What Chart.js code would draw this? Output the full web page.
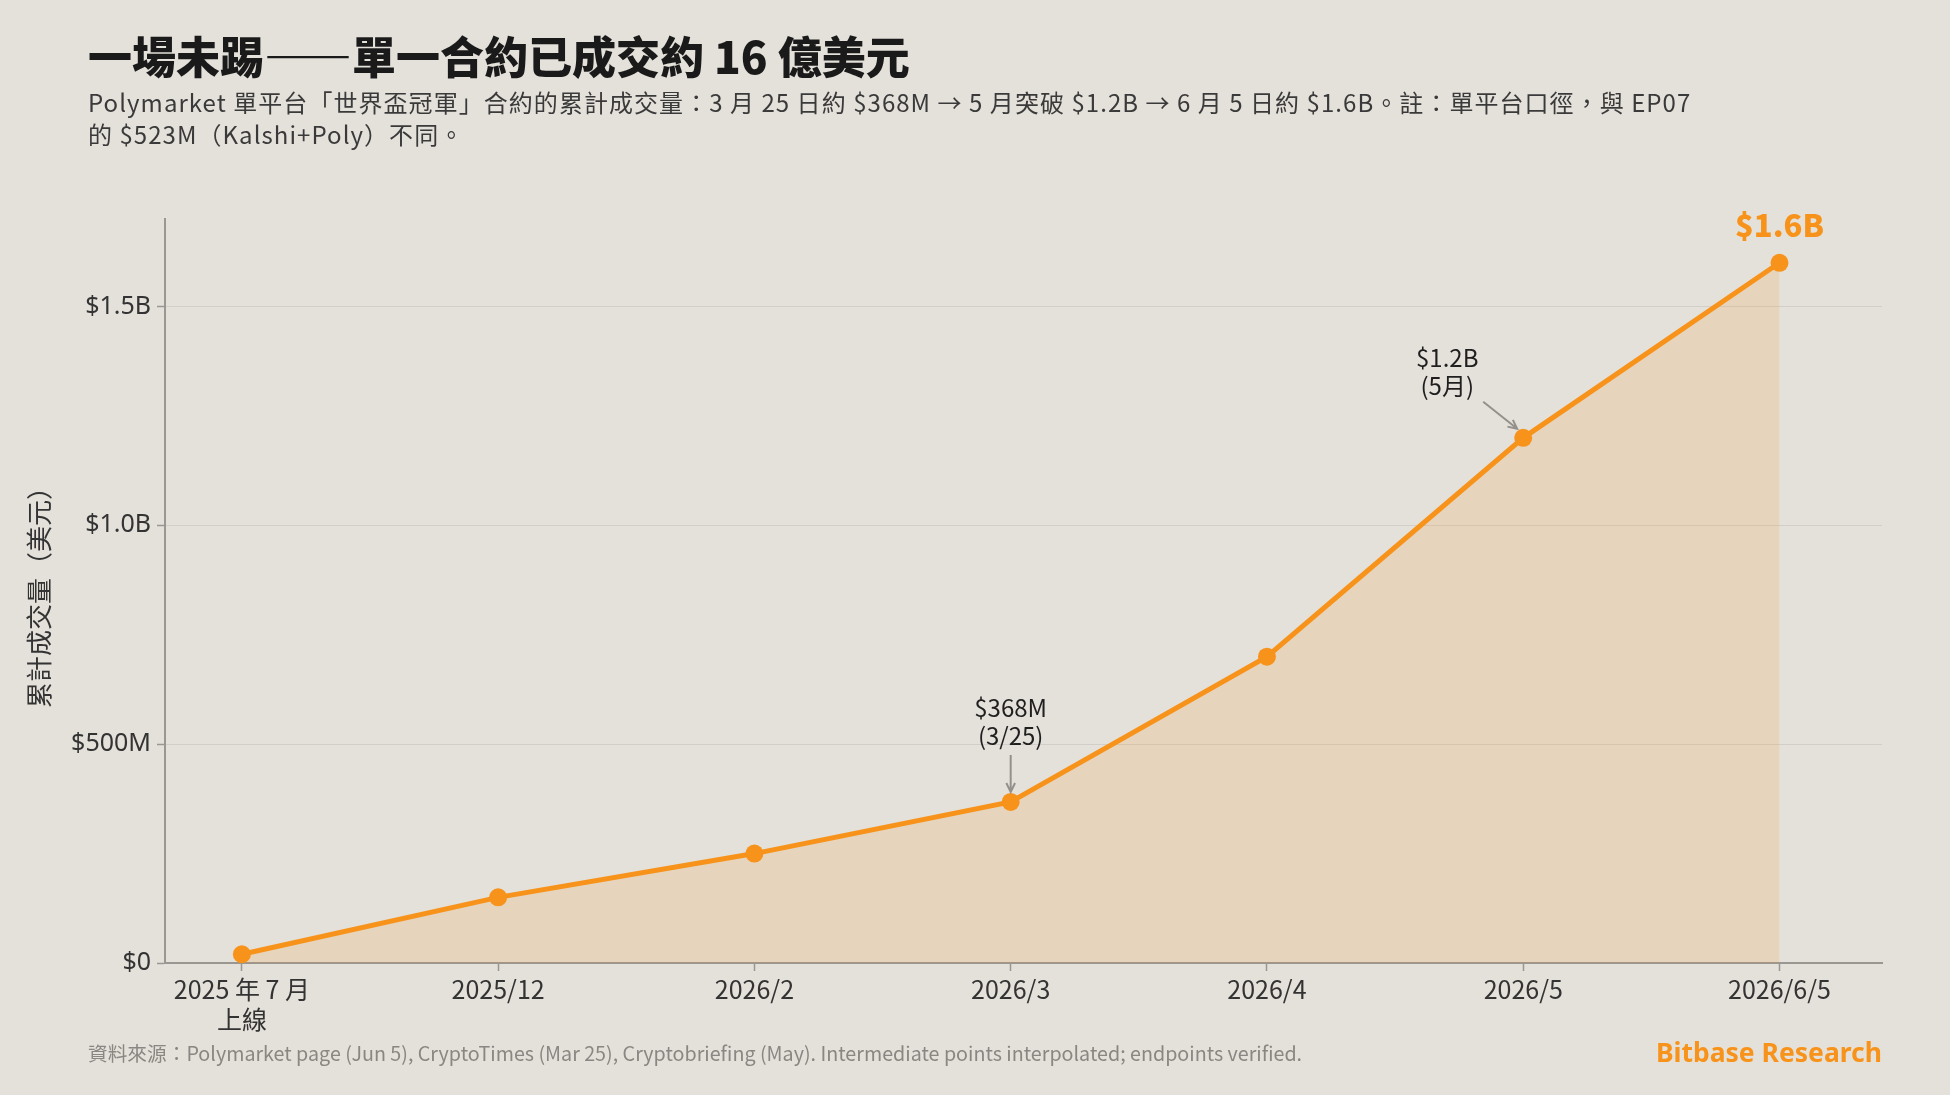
<!DOCTYPE html>
<html lang="zh-Hant">
<head>
<meta charset="utf-8">
<title>一場未踢——單一合約已成交約 16 億美元</title>
<script src="https://cdn.jsdelivr.net/npm/chart.js@4.4.1/dist/chart.umd.min.js"></script>
<style>
  html, body {
    margin: 0;
    padding: 0;
    width: 1950px;
    height: 1095px;
    background: #e4e0da;
    overflow: hidden;
    font-family: "Noto Sans CJK TC", "Noto Sans", sans-serif;
  }
  #chartWrap { position: absolute; left: 0; top: 0; width: 1950px; height: 1095px; }
  .title {
    position: absolute; left: 88px; top: 27px;
    font-size: 44px; font-weight: 900; color: #1a1a1a; line-height: 56px;
  }
  .subtitle {
    position: absolute; left: 88px; top: 86px;
    font-size: 24px; letter-spacing: 1.05px; color: #3a3a3a; line-height: 32px;
  }
  .source {
    position: absolute; left: 88px; top: 1040px;
    font-size: 19.7px; color: #8a8682; line-height: 26px;
  }
  .brand {
    position: absolute; right: 68px; top: 1036px;
    font-size: 26.5px; font-weight: 700; color: #f7931a; line-height: 32px;
    font-family: "Noto Sans", sans-serif;
  }
</style>
</head>
<body>
<div id="chartWrap"><canvas id="chartMain" width="1950" height="1095"></canvas></div>
<div class="title">一場未踢——單一合約已成交約 16 億美元</div>
<div class="subtitle">Polymarket 單平台「世界盃冠軍」合約的累計成交量：3 月 25 日約 $368M → 5 月突破 $1.2B → 6 月 5 日約 $1.6B。註：單平台口徑，與 EP07<br>的 $523M（Kalshi+Poly）不同。</div>
<div class="source">資料來源：Polymarket page (Jun 5), CryptoTimes (Mar 25), Cryptobriefing (May). Intermediate points interpolated; endpoints verified.</div>
<div class="brand">Bitbase Research</div>

<script>
// ─────────────────────────────────────────────
//  Data
// ─────────────────────────────────────────────
const CATEGORIES = [["2025 年 7 月", "上線"], "2025/12", "2026/2", "2026/3", "2026/4", "2026/5", "2026/6/5"];
const VOLUME_M   = [20, 150, 250, 368, 700, 1200, 1600];   // 累計成交量, 百萬美元
const Y_TICKS_M  = [0, 500, 1000, 1500];

// callouts: which point, text lines
const CALLOUTS = [
  { idx: 3, lines: ["$368M", "(3/25)"] },
  { idx: 5, lines: ["$1.2B", "(5月)"] },
];
const END_LABEL = "$1.6B";

const C_ORANGE = "#f7931a";
const C_TEXT   = "#333333";
const C_AXIS   = "#9a9692";
const C_GRID   = "#d3cec7";
const FONT     = '"Noto Sans CJK TC", "Noto Sans", sans-serif';

const fmtY = (v) => {
  const m = v / 1e6;
  if (m === 0) return "$0";
  if (m >= 1000) return "$" + (m / 1000).toFixed(1) + "B";
  return "$" + m + "M";
};

// ─────────────────────────────────────────────
//  Callouts plugin (arrows + labels)
// ─────────────────────────────────────────────
function arrow(ctx, x1, y1, x2, y2) {
  const a = Math.atan2(y2 - y1, x2 - x1);
  const h = 10;
  ctx.beginPath();
  ctx.moveTo(x1, y1);
  ctx.lineTo(x2, y2);
  ctx.moveTo(x2 - h * Math.cos(a - 0.45), y2 - h * Math.sin(a - 0.45));
  ctx.lineTo(x2, y2);
  ctx.lineTo(x2 - h * Math.cos(a + 0.45), y2 - h * Math.sin(a + 0.45));
  ctx.stroke();
}

const calloutPlugin = {
  id: "callouts",
  afterDatasetsDraw(chart) {
    const { ctx } = chart;
    const meta = chart.getDatasetMeta(0);
    ctx.save();
    ctx.strokeStyle = "#94908b";
    ctx.lineWidth = 2;
    ctx.fillStyle = "#1f1f1f";
    ctx.font = "24px " + FONT;
    ctx.textAlign = "center";
    ctx.textBaseline = "middle";

    // 3/25 — arrow straight down
    let p = meta.data[CALLOUTS[0].idx];
    ctx.fillText(CALLOUTS[0].lines[0], p.x, p.y - 94);
    ctx.fillText(CALLOUTS[0].lines[1], p.x, p.y - 66);
    arrow(ctx, p.x, p.y - 47, p.x, p.y - 10);

    // 5月 — arrow from upper-left
    p = meta.data[CALLOUTS[1].idx];
    ctx.fillText(CALLOUTS[1].lines[0], p.x - 76, p.y - 80);
    ctx.fillText(CALLOUTS[1].lines[1], p.x - 76, p.y - 52);
    arrow(ctx, p.x - 40, p.y - 36, p.x - 6, p.y - 9);

    // end label
    p = meta.data[meta.data.length - 1];
    ctx.fillStyle = C_ORANGE;
    ctx.font = "900 31px " + FONT;
    ctx.fillText(END_LABEL, p.x, p.y - 38);
    ctx.restore();
  },
};

// ─────────────────────────────────────────────
//  Chart
// ─────────────────────────────────────────────
new Chart(document.getElementById("chartMain"), {
  type: "line",
  data: {
    datasets: [
      {
        data: VOLUME_M.map((v, i) => ({ x: i, y: v * 1e6 })),
        borderColor: C_ORANGE,
        backgroundColor: "rgba(247,147,26,0.15)",
        borderWidth: 5,
        fill: "origin",
        tension: 0,
        pointRadius: 9,
        pointBackgroundColor: C_ORANGE,
        pointBorderColor: C_ORANGE,
        pointBorderWidth: 0,
      },
    ],
  },
  options: {
    responsive: false,
    animation: false,
    events: [],
    layout: { padding: { top: 219, right: 68, bottom: 52, left: 0 } },
    plugins: { legend: { display: false }, tooltip: { enabled: false } },
    scales: {
      x: {
        type: "linear",
        min: -0.3,
        max: 6.4,
        afterBuildTicks: (s) => { s.ticks = CATEGORIES.map((_, i) => ({ value: i })); },
        afterFit: (s) => { s.height = 80; },
        grid: { drawOnChartArea: false, drawTicks: true, tickLength: 8, tickColor: C_AXIS, tickWidth: 1.5 },
        border: { color: C_AXIS, width: 2 },
        ticks: {
          autoSkip: false,
          maxRotation: 0,
          padding: 3,
          color: C_TEXT,
          font: { family: FONT, size: 25 },
          callback: (v) => CATEGORIES[v],
        },
      },
      y: {
        min: 0,
        max: 1.7e9,
        afterBuildTicks: (s) => { s.ticks = Y_TICKS_M.map((m) => ({ value: m * 1e6 })); },
        afterFit: (s) => { s.width = 165; },
        grid: { color: C_GRID, lineWidth: 1, tickLength: 8, tickColor: C_AXIS, tickWidth: 1.5 },
        border: { color: C_AXIS, width: 2 },
        ticks: {
          padding: 6,
          color: C_TEXT,
          font: { family: '"Noto Sans", sans-serif', size: 25 },
          callback: (v) => fmtY(v),
        },
        title: {
          display: true,
          text: "累計成交量（美元）",
          color: C_TEXT,
          font: { family: FONT, size: 26 },
          padding: { top: 24, bottom: 0 },
        },
      },
    },
  },
  plugins: [calloutPlugin],
});
</script>
</body>
</html>
